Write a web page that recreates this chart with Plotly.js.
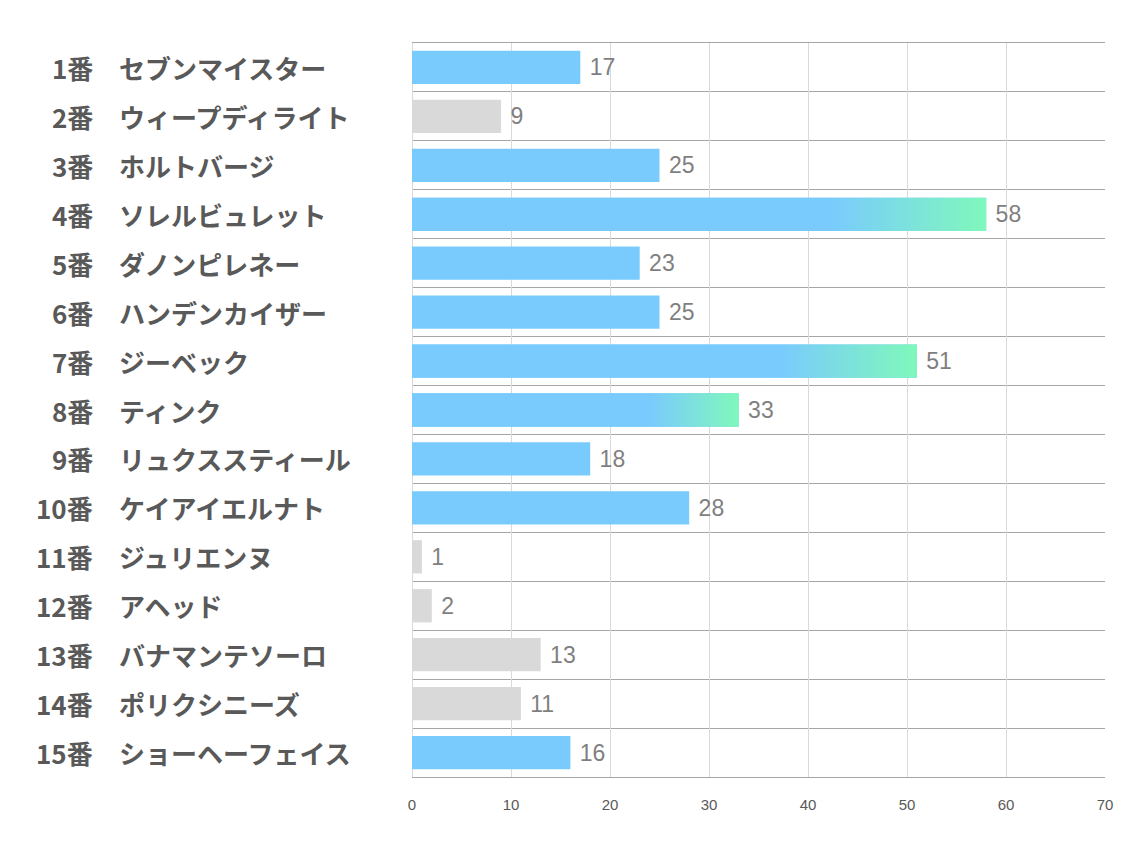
<!DOCTYPE html>
<html>
<head>
<meta charset="utf-8">
<script src="https://cdn.plot.ly/plotly-3.0.1.min.js"></script>
<style>
  body { margin: 0; background: #fff; }
  #chart { width: 1134px; height: 850px; }
</style>
</head>
<body>
<div id="chart"></div>
<script>
// horse numbers and names, top to bottom
const numbers = ['1番', '2番', '3番', '4番', '5番', '6番', '7番', '8番', '9番', '10番',
                 '11番', '12番', '13番', '14番', '15番'];
const names = ['セブンマイスター', 'ウィープディライト', 'ホルトバージ', 'ソレルビュレット',
               'ダノンピレネー', 'ハンデンカイザー', 'ジーベック', 'ティンク', 'リュクススティール',
               'ケイアイエルナト', 'ジュリエンヌ', 'アヘッド', 'バナマンテソーロ',
               'ポリクシニーズ', 'ショーヘーフェイス'];
const values = [17, 9, 25, 58, 23, 25, 51, 33, 18, 28, 1, 2, 13, 11, 16];
// 'b' = blue, 'g' = grey, 'x' = blue→green gradient
const kinds = ['b', 'g', 'b', 'x', 'b', 'b', 'x', 'x', 'b', 'b', 'g', 'g', 'g', 'g', 'b'];

const BLUE = '#7acbfd';
const GREEN = '#7ff8bb';
const GREY = '#d9d9d9';
const BAR_W = 0.68;

const idx = values.map((v, i) => i);

const traces = [{
    type: 'bar',
    orientation: 'h',
    x: values,
    y: idx,
    width: BAR_W,
    marker: { color: kinds.map(k => k === 'g' ? GREY : BLUE), line: { width: 0 } },
    text: values.map(v => ' ' + v),
    textposition: 'outside',
    cliponaxis: false,
    textfont: { family: 'Liberation Sans, Arial, sans-serif', size: 23, color: '#7f7f7f' },
    hoverinfo: 'skip'
}];

// gradient overlays for highlighted bars
values.forEach((v, i) => {
    if (kinds[i] !== 'x') return;
    const h = BAR_W / 2;
    traces.push({
        type: 'scatter',
        mode: 'lines',
        x: [0, v, v, 0, 0],
        y: [i - h, i - h, i + h, i + h, i - h],
        fill: 'toself',
        line: { width: 0 },
        fillgradient: {
            type: 'horizontal',
            start: 0,
            stop: v,
            colorscale: [[0, BLUE], [0.73, BLUE], [1, GREEN]]
        },
        hoverinfo: 'skip',
        showlegend: false
    });
});

const plotLeft = 412, plotWidth = 693;
const labelFont = { family: 'Noto Sans CJK JP', size: 26, color: '#595959', weight: 700 };
const annotations = [];
numbers.forEach((n, i) => {
    annotations.push({
        xref: 'paper', yref: 'y', x: (95 - plotLeft) / plotWidth, y: i,
        xanchor: 'right', yanchor: 'middle', showarrow: false, text: n,
        font: labelFont
    });
    annotations.push({
        xref: 'paper', yref: 'y', x: (117 - plotLeft) / plotWidth, y: i,
        xanchor: 'left', yanchor: 'middle', showarrow: false, text: names[i],
        font: labelFont
    });
});

const layout = {
    width: 1134,
    height: 850,
    margin: { l: 412, r: 29, t: 43, b: 73 },
    paper_bgcolor: '#ffffff',
    plot_bgcolor: '#ffffff',
    showlegend: false,
    barmode: 'overlay',
    xaxis: {
        range: [0, 70],
        dtick: 10,
        showgrid: true,
        gridcolor: '#d9d9d9',
        zeroline: true,
        zerolinecolor: '#d9d9d9',
        showline: true,
        mirror: true,
        linecolor: '#a6a6a6',
        ticks: '',
        ticklabelstandoff: 14,
        tickfont: { family: 'Liberation Sans, Arial, sans-serif', size: 15, color: '#595959' },
        fixedrange: true
    },
    yaxis: {
        range: [values.length - 0.5, -0.5],
        showticklabels: false,
        showgrid: false,
        zeroline: false,
        showline: false,
        ticks: '',
        minor: { tick0: 0.5, dtick: 1, showgrid: true, gridcolor: '#a6a6a6', gridwidth: 1, ticks: '' },
        fixedrange: true
    },
    annotations: annotations
};

Plotly.newPlot('chart', traces, layout, { displayModeBar: false, staticPlot: true });
</script>
</body>
</html>
